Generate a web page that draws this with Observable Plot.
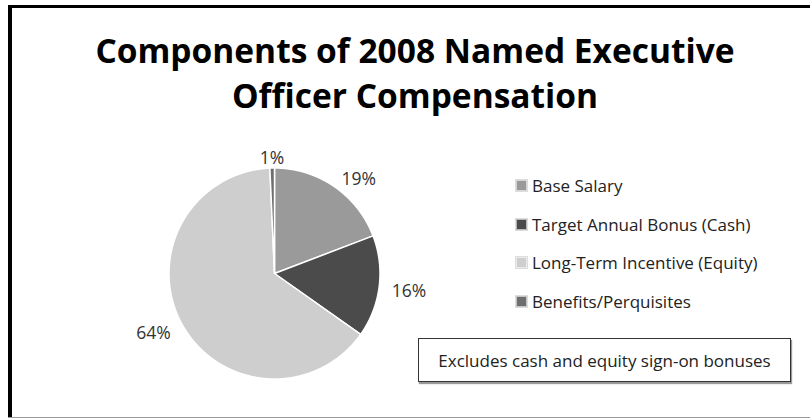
<!DOCTYPE html>
<html>
<head>
<meta charset="utf-8">
<script src="https://cdn.jsdelivr.net/npm/d3@7"></script>
<script src="https://cdn.jsdelivr.net/npm/@observablehq/plot@0.6"></script>
<style>
  html, body { margin: 0; padding: 0; background: #fff; overflow: hidden; width: 810px; height: 420px; }
  #page { position: relative; width: 810px; height: 420px; overflow: hidden; background: #fff;
          font-family: "Open Sans", Lato, sans-serif; font-variant-ligatures: none; }
  #frameTop { position: absolute; left: 8px; top: 5px; width: 802px; height: 3px; background: #000; }
  #frameLeft { position: absolute; left: 8px; top: 5px; width: 4px; height: 413px; background: #000; }
  #frameBottom { position: absolute; left: 8px; top: 417px; width: 802px; height: 1px; background: #9a9a9a; }
  #title { position: absolute; left: 15px; width: 800px; top: 28px; text-align: center; font-weight: bold;
           font-size: 33.5px; line-height: 45px; color: #000; }
  #pie { position: absolute; left: 0; top: 130px; }
  #legend { position: absolute; left: 516px; top: 174.5px; }
  .row { position: absolute; left: 0; height: 22px; white-space: nowrap; font-size: 17px; color: #222; display: flex; align-items: center; }
  .sw { width: 11px; height: 11px; box-sizing: border-box; border: 1px solid rgba(255,255,255,0.6); outline: 1px solid #ddd; margin-right: 5px; }
  #note { position: absolute; left: 418px; top: 338px; width: 373px; height: 44px; box-sizing: border-box;
          border: 1px solid #333; box-shadow: 1px 2px 1px #999; display: flex; align-items: center; justify-content: center;
          font-size: 17px; color: #222; }
</style>
</head>
<body>
<div id="page">
  <div id="frameTop"></div>
  <div id="frameLeft"></div>
  <div id="frameBottom"></div>
  <div id="title"></div>
  <div id="pie"></div>
  <div id="legend"></div>
  <div id="note"></div>
</div>
<script>
const titleLines = ["Components of 2008 Named Executive", "Officer Compensation"];
const categories = ["Base Salary", "Target Annual Bonus (Cash)", "Long-Term Incentive (Equity)", "Benefits/Perquisites"];
const shares = [19.2, 15.6, 64.5, 0.7];
const labels = ["19%", "16%", "64%", "1%"];
const colors = ["#9a9a9a", "#4b4b4b", "#cecece", "#6e6e6e"];
const noteText = "Excludes cash and equity sign-on bonuses";

document.getElementById("title").innerHTML = titleLines.join("<br>");
document.getElementById("note").textContent = noteText;

// pie geometry (unit radius, clockwise from 12 o'clock)
const total = d3.sum(shares);
let cum = 0;
const slices = categories.map((c, i) => {
  const a0 = 2 * Math.PI * cum / total;
  cum += shares[i];
  const a1 = 2 * Math.PI * cum / total;
  return {key: c, label: labels[i], a0, a1, mid: (a0 + a1) / 2};
});
const pts = [];
for (const s of slices) {
  pts.push({key: s.key, x: 0, y: 0});
  const n = Math.max(2, Math.ceil((s.a1 - s.a0) / (Math.PI / 360)));
  for (let k = 0; k <= n; k++) {
    const a = s.a0 + (s.a1 - s.a0) * k / n;
    pts.push({key: s.key, x: Math.sin(a), y: Math.cos(a)});
  }
}
const R = 1.12;
const lab = slices.map(s => ({label: s.label, x: R * Math.sin(s.mid), y: R * Math.cos(s.mid), s: Math.sin(s.mid)}));

const W = 480, H = 280, cx = 274, cy = 143, rpx = 105.5;
const textOpts = {x: "x", y: "y", text: "label", fontSize: 17.5, fill: "#333", fontFamily: "Open Sans", dy: 3};
const chart = Plot.plot({
  width: W, height: H, margin: 0,
  x: {domain: [-cx / rpx, (W - cx) / rpx], axis: null},
  y: {domain: [-(H - cy) / rpx, cy / rpx], axis: null},
  color: {domain: categories, range: colors},
  marks: [
    Plot.line(pts, {x: "x", y: "y", z: "key", fill: "key", stroke: "#fff", strokeWidth: 1.5, curve: "linear-closed"}),
    Plot.text(lab.filter(d => d.s > 0.3), {...textOpts, textAnchor: "start"}),
    Plot.text(lab.filter(d => d.s < -0.3), {...textOpts, textAnchor: "end"}),
    Plot.text(lab.filter(d => Math.abs(d.s) <= 0.3), {...textOpts, textAnchor: "middle"})
  ]
});
document.getElementById("pie").appendChild(chart);

const color = chart.scale("color");
const leg = document.getElementById("legend");
categories.forEach((c, i) => {
  const row = document.createElement("div");
  row.className = "row";
  row.style.top = (i * 38.7) + "px";
  const sw = document.createElement("div");
  sw.className = "sw";
  sw.style.background = color.apply(c);
  const t = document.createElement("span");
  t.textContent = c;
  row.appendChild(sw);
  row.appendChild(t);
  leg.appendChild(row);
});
</script>
</body>
</html>
